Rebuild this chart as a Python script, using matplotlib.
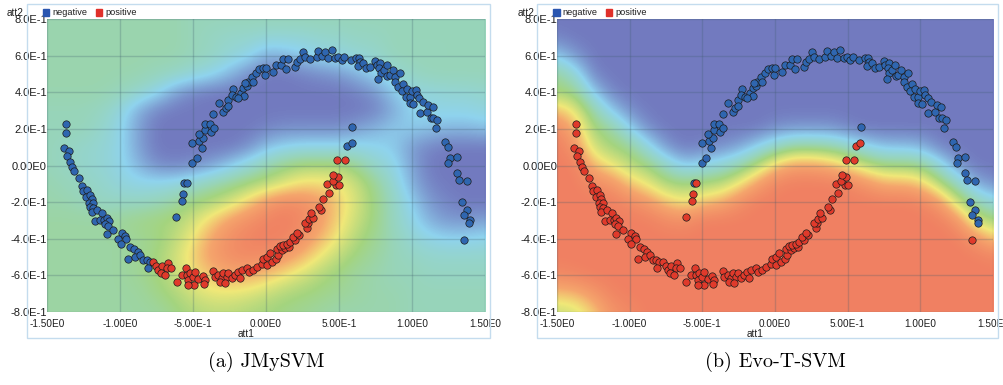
"""
Two-moons decision surfaces: JMySVM vs Evo-T-SVM.
"""
import matplotlib
matplotlib.use("Agg")
import matplotlib.pyplot as plt
from matplotlib.colors import LinearSegmentedColormap
from matplotlib.patches import Rectangle
import numpy as np

# negative class, left arm
arm_x = [-1.370, -1.372, -1.384, -1.347, -1.361, -1.342, -1.331, -1.313, -1.281, -1.262,
         -1.251, -1.228, -1.235, -1.205, -1.194, -1.210, -1.187, -1.205, -1.183, -1.194,
         -1.155, -1.125, -1.171, -1.137, -1.110, -1.091, -1.073, -1.103, -1.080, -1.091,
         -1.046, -0.988, -1.012, -0.966, -0.959, -0.993, -0.932, -0.902, -0.879, -0.943,
         -0.897, -0.863, -0.840, -0.817, -0.795, -0.810]
arm_y = [0.225, 0.177, 0.094, 0.081, 0.050, 0.021, -0.007, -0.030, -0.070, -0.112,
         -0.138, -0.134, -0.171, -0.161, -0.185, -0.207, -0.207, -0.225, -0.234, -0.252,
         -0.243, -0.261, -0.302, -0.298, -0.298, -0.288, -0.302, -0.321, -0.329, -0.374,
         -0.352, -0.367, -0.402, -0.385, -0.403, -0.430, -0.444, -0.458, -0.471, -0.512,
         -0.498, -0.489, -0.516, -0.516, -0.525, -0.562]

# negative class, upper arc
arc_x = [-0.560, -0.505, -0.475, -0.505, -0.440, -0.457, -0.429, -0.461, -0.418, -0.418,
         -0.384, -0.379, -0.356, -0.361, -0.325, -0.292, -0.274, -0.258, -0.228, -0.233,
         -0.205, -0.173, -0.155, -0.151, -0.132, -0.121, -0.098, -0.087, -0.068, -0.046,
         -0.023, -0.007, 0.000, 0.050, 0.068, 0.101, 0.118, 0.153, 0.137, 0.199,
         0.210, 0.233, 0.255, 0.267, 0.301, 0.347, 0.358, 0.382, 0.404, 0.427,
         0.450, 0.473, 0.495, 0.518, 0.534, 0.580, 0.616, 0.639, 0.644, 0.632,
         0.666, 0.685, 0.712, 0.747, 0.758, 0.781, 0.776, 0.786, 0.769, 0.808,
         0.827, 0.831, 0.849, 0.868, 0.884, 0.918, 0.884, 0.906, 0.940, 0.929,
         0.964, 0.957, 0.986, 0.998, 1.027, 1.032, 0.986, 1.009, 1.050, 1.073,
         1.055, 1.101, 1.112, 1.142, 1.128, 1.146, 1.173, 1.164, 1.226, 1.244,
         1.260, 1.310, 1.249, 1.310, 1.324, 1.375, 1.340, 1.375, 1.356, 1.397,
         1.393, 0.591, -0.258, -0.194, -0.144]
arc_y = [-0.094, 0.012, 0.042, 0.125, 0.097, 0.134, 0.148, 0.174, 0.194, 0.225,
         0.225, 0.184, 0.203, 0.284, 0.339, 0.290, 0.312, 0.358, 0.418, 0.385,
         0.374, 0.394, 0.422, 0.378, 0.436, 0.458, 0.485, 0.458, 0.503, 0.525,
         0.534, 0.494, 0.531, 0.509, 0.549, 0.549, 0.582, 0.582, 0.527, 0.539,
         0.567, 0.582, 0.621, 0.594, 0.580, 0.591, 0.625, 0.600, 0.618, 0.589,
         0.631, 0.585, 0.594, 0.576, 0.594, 0.576, 0.589, 0.589, 0.567, 0.545,
         0.558, 0.534, 0.539, 0.571, 0.549, 0.558, 0.531, 0.503, 0.471, 0.521,
         0.549, 0.489, 0.494, 0.521, 0.485, 0.503, 0.458, 0.430, 0.443, 0.407,
         0.418, 0.376, 0.376, 0.407, 0.412, 0.385, 0.343, 0.334, 0.367, 0.348,
         0.288, 0.294, 0.330, 0.321, 0.261, 0.258, 0.248, 0.203, 0.127, 0.099,
         0.039, 0.048, 0.015, -0.043, -0.079, -0.085, -0.201, -0.243, -0.270, -0.298,
         -0.316, 0.212, 0.325, 0.367, 0.449]

# negative points lying close to the boundary
edge_x = [-0.543, -0.566, -0.573, -0.616, 0.557, 0.587, 1.358]
edge_y = [-0.094, -0.157, -0.194, -0.280, 0.108, 0.121, -0.407]

# positive class
pos_x = [-0.772, -0.753, -0.738, -0.714, -0.673, -0.680, -0.651, -0.721, -0.692, -0.612,
         -0.548, -0.577, -0.543, -0.521, -0.532, -0.502, -0.486, -0.464, -0.491, -0.532,
         -0.434, -0.418, -0.425, -0.361, -0.349, -0.327, -0.303, -0.315, -0.292, -0.269,
         -0.258, -0.281, -0.235, -0.212, -0.190, -0.166, -0.178, -0.132, -0.114, -0.087,
         -0.064, -0.029, -0.018, 0.009, 0.005, 0.039, 0.027, 0.068, 0.084, 0.073,
         0.108, 0.096, 0.130, 0.118, 0.160, 0.142, 0.164, 0.199, 0.187, 0.228,
         0.210, 0.279, 0.290, 0.267, 0.297, 0.324, 0.306, 0.375, 0.365, 0.393,
         0.432, 0.416, 0.479, 0.502, 0.457, 0.491, 0.461, 0.488, 0.541]
pos_y = [-0.525, -0.549, -0.571, -0.549, -0.531, -0.562, -0.562, -0.589, -0.598, -0.635,
         -0.558, -0.598, -0.598, -0.589, -0.625, -0.607, -0.580, -0.622, -0.653, -0.653,
         -0.604, -0.625, -0.647, -0.575, -0.611, -0.598, -0.616, -0.635, -0.589, -0.607,
         -0.589, -0.643, -0.616, -0.598, -0.580, -0.571, -0.616, -0.562, -0.580, -0.571,
         -0.556, -0.538, -0.512, -0.544, -0.501, -0.525, -0.476, -0.512, -0.489, -0.458,
         -0.462, -0.440, -0.452, -0.434, -0.444, -0.429, -0.416, -0.407, -0.389, -0.380,
         -0.367, -0.343, -0.316, -0.316, -0.294, -0.288, -0.261, -0.243, -0.225, -0.185,
         -0.149, -0.101, -0.107, -0.107, -0.083, -0.065, -0.052, 0.030, 0.030]

# decision values, rows from y=0.8 down to y=-0.8 (step 0.1),
# columns from x=-1.5 to x=1.5 (step 0.125)
jmysvm_grid = [
    [-.2, -.2, -.2, -.2, -.2, -.2, -.2, -.2, -.25, -.25, -.25, -.25, -.25, -.25, -.25, -.25, -.25, -.25, -.25, -.25, -.25, -.25, -.25, -.25, -.25],
    [-.2, -.2, -.2, -.2, -.2, -.2, -.2, -.2, -.25, -.3, -.35, -.35, -.4, -.4, -.4, -.35, -.35, -.3, -.3, -.25, -.25, -.25, -.25, -.25, -.25],
    [-.2, -.2, -.2, -.2, -.2, -.2, -.2, -.2, -.25, -.3, -.4, -.5, -.75, -.7, -.6, -.5, -.45, -.4, -.35, -.25, -.25, -.25, -.25, -.25, -.25],
    [-.2, -.2, -.2, -.2, -.2, -.2, -.25, -.3, -.4, -.5, -.7, -.9, -1, -1, -.95, -.9, -.85, -.7, -.55, -.4, -.3, -.25, -.25, -.25, -.25],
    [-.2, -.2, -.2, -.2, -.25, -.35, -.5, -.8, -.95, -1, -1, -1, -1, -1, -1, -1, -1, -.95, -.85, -.6, -.45, -.45, -.4, -.4, -.35],
    [-.25, -.25, -.25, -.3, -.45, -.75, -.95, -1, -1, -1, -1, -1, -1, -1, -1, -1, -1, -1, -.95, -.75, -.55, -.5, -.5, -.5, -.45],
    [-.25, -.25, -.25, -.35, -.5, -.8, -1, -1, -1, -1, -1, -1, -.95, -.9, -.9, -.9, -.9, -.8, -.7, -.6, -.6, -.65, -.7, -.7, -.65],
    [-.25, -.3, -.35, -.4, -.5, -.8, -1, -1, -1, -1, -1, -.9, -.65, -.55, -.5, -.5, -.5, -.5, -.55, -.6, -.85, -.95, -1, -1, -1],
    [-.25, -.3, -.35, -.4, -.5, -.7, -.9, -.95, -.9, -.8, -.6, -.4, -.2, -.05, .05, .05, .05, -.1, -.35, -.5, -.8, -1, -1, -1, -1],
    [-.2, -.25, -.3, -.35, -.45, -.5, -.5, -.45, -.35, -.2, -.1, 0, .1, .25, .4, .4, .35, .15, -.1, -.4, -.75, -.95, -1, -1, -1],
    [-.2, -.2, -.25, -.3, -.3, -.3, -.25, -.15, 0, .05, .2, .45, .75, .9, .85, .7, .45, .2, -.05, -.3, -.6, -.85, -.95, -1, -1],
    [-.15, -.15, -.15, -.15, -.1, -.05, 0, .05, .2, .45, .7, .85, .95, 1, .9, .7, .4, .15, -.05, -.3, -.5, -.75, -.85, -.85, -.8],
    [-.15, -.15, -.15, -.15, -.15, -.1, -.05, .1, .35, .65, .85, .95, 1, .95, .8, .55, .3, .05, -.1, -.25, -.4, -.5, -.55, -.55, -.5],
    [-.15, -.15, -.15, -.15, -.15, -.1, 0, .2, .45, .7, .85, .9, .85, .75, .55, .3, .1, -.05, -.15, -.25, -.3, -.35, -.35, -.35, -.35],
    [-.15, -.15, -.15, -.15, -.15, -.1, 0, .15, .35, .5, .6, .6, .5, .35, .2, .05, -.05, -.15, -.2, -.25, -.25, -.3, -.3, -.3, -.3],
    [-.15, -.15, -.15, -.15, -.15, -.15, -.05, .05, .2, .3, .3, .25, .15, .05, 0, -.05, -.1, -.15, -.2, -.2, -.25, -.25, -.25, -.25, -.25],
    [-.15, -.15, -.15, -.15, -.15, -.15, -.15, -.05, .05, .1, .1, .05, 0, -.05, -.1, -.15, -.2, -.2, -.2, -.2, -.25, -.25, -.25, -.25, -.25],
]

evo_grid = [
    [-1, -1, -1, -1, -1, -1, -1, -1, -1, -1, -1, -1, -1, -1, -1, -1, -1, -1, -1, -1, -1, -1, -1, -1, -1],
    [-.95, -1, -1, -1, -1, -1, -1, -1, -1, -1, -1, -1, -1, -1, -1, -1, -1, -1, -1, -1, -1, -1, -1, -1, -1],
    [-.6, -.85, -1, -1, -1, -1, -1, -1, -1, -1, -1, -1, -1, -1, -1, -1, -1, -1, -1, -1, -1, -1, -1, -1, -1],
    [-.1, -.4, -.95, -1, -1, -1, -1, -1, -1, -1, -1, -1, -1, -1, -1, -1, -1, -1, -1, -1, -1, -1, -1, -1, -1],
    [0, -.05, -.6, -.95, -1, -1, -1, -1, -1, -1, -1, -1, -1, -1, -1, -1, -1, -1, -1, -1, -1, -1, -1, -1, -1],
    [.55, .3, -.15, -.6, -.9, -1, -1, -1, -1, -1, -1, -1, -1, -1, -1, -1, -1, -1, -1, -1, -1, -1, -1, -1, -1],
    [.9, .6, 0, -.1, -.55, -.9, -1, -1, -1, -1, -1, -1, -.9, -.85, -.85, -.85, -.95, -1, -1, -1, -1, -1, -1, -1, -1],
    [1, .8, .2, 0, -.05, -.45, -.85, -1, -.95, -.9, -.8, -.55, -.3, -.1, -.1, -.15, -.3, -.5, -.65, -.65, -.7, -.95, -1, -1, -1],
    [1, 1, .55, .35, .1, 0, -.3, -.6, -.5, -.4, -.2, .1, .5, .7, .7, .6, .4, .15, 0, 0, -.05, -.4, -.85, -1, -1],
    [1, 1, .9, .8, .5, .3, .05, 0, .05, .1, .35, .7, .95, 1, 1, 1, .95, .8, .6, .6, .5, .1, -.3, -.75, -.9],
    [1, 1, 1, 1, .9, .75, .5, .35, .5, .6, .85, 1, 1, 1, 1, 1, 1, 1, 1, 1, .95, .75, .2, -.2, -.45],
    [1, 1, 1, 1, 1, 1, .9, .85, 1, 1, 1, 1, 1, 1, 1, 1, 1, 1, 1, 1, 1, 1, .8, .2, 0],
    [1, 1, 1, 1, 1, 1, 1, 1, 1, 1, 1, 1, 1, 1, 1, 1, 1, 1, 1, 1, 1, 1, 1, .8, .5],
    [1, 1, 1, 1, 1, 1, 1, 1, 1, 1, 1, 1, 1, 1, 1, 1, 1, 1, 1, 1, 1, 1, 1, 1, .95],
    [.9, .95, 1, 1, 1, 1, 1, 1, 1, 1, 1, 1, 1, 1, 1, 1, 1, 1, 1, 1, 1, 1, 1, 1, 1],
    [.5, .55, .75, .95, 1, 1, 1, 1, 1, 1, 1, 1, 1, 1, 1, 1, 1, 1, 1, 1, 1, 1, 1, 1, 1],
    [.15, .2, .45, .8, .9, 1, 1, 1, 1, 1, 1, 1, 1, 1, 1, 1, 1, 1, 1, 1, 1, 1, 1, 1, 1],
]

x_ticks = [-1.5, -1.0, -0.5, 0.0, 0.5, 1.0, 1.5]
x_labels = ["-1.50E0", "-1.00E0", "-5.00E-1", "0.00E0", "5.00E-1", "1.00E0", "1.50E0"]
y_ticks = [-0.8, -0.6, -0.4, -0.2, 0.0, 0.2, 0.4, 0.6, 0.8]
y_labels = ["-8.0E-1", "-6.0E-1", "-4.0E-1", "-2.0E-1", "0.00E0",
            "2.0E-1", "4.0E-1", "6.0E-1", "8.0E-1"]
captions = ["(a) JMySVM", "(b) Evo-T-SVM"]

NEG = "#2f66b0"
POS = "#e03a2b"

surface = LinearSegmentedColormap.from_list("surface", [
    (0.0, "#727abf"),
    (0.22, "#8fd3ee"),
    (0.38, "#98d5b8"),
    (0.5, "#a4d47f"),
    (0.67, "#f0e878"),
    (0.82, "#f5a56c"),
    (1.0, "#f08062"),
])

X_FONT = dict(family="Liberation Sans", size=7.2, color="#1e1e1e")
Y_FONT = dict(family="Liberation Sans", size=8, color="#1e1e1e")
LEG_FONT = dict(family="Liberation Sans", size=6.6, color="#1e1e1e")

fig = plt.figure(figsize=(10.04, 3.85), dpi=100)

panels = [
    # left, width, grid, blue groups, red groups
    (0.0468, 0.4363, jmysvm_grid,
     [(arm_x, arm_y), (arc_x, arc_y), (edge_x, edge_y)],
     [(pos_x, pos_y)]),
    (0.5548, 0.4343, evo_grid,
     [(arc_x, arc_y)],
     [(arm_x, arm_y), (edge_x, edge_y), (pos_x, pos_y)]),
]

for k, (left, width, grid, blues, reds) in enumerate(panels):
    ax = fig.add_axes([left, 0.1896, width, 0.7610])
    z = np.array(grid)
    ax.imshow(z, cmap=surface, vmin=-1, vmax=1, interpolation="bicubic",
              extent=[-1.5625, 1.5625, -0.85, 0.85], origin="upper", aspect="auto",
              zorder=0)
    ax.set_xlim(-1.5, 1.5)
    ax.set_ylim(-0.8, 0.8)

    for t in x_ticks:
        ax.axvline(t, color="#3d5c6c", alpha=0.25, lw=1, zorder=1)
    for t in y_ticks:
        ax.axhline(t, color="#3d5c6c", alpha=0.25, lw=1, zorder=1)

    for xs, ys in blues:
        ax.scatter(xs, ys, s=28, c=NEG, edgecolors="#1c1c1c", linewidths=0.5, zorder=3)
    for xs, ys in reds:
        ax.scatter(xs, ys, s=28, c=POS, edgecolors="#1c1c1c", linewidths=0.5, zorder=3)

    ax.set_xticks(x_ticks)
    ax.set_xticklabels(x_labels, fontdict=X_FONT)
    ax.set_yticks(y_ticks)
    ax.set_yticklabels(y_labels, fontdict=Y_FONT)
    ax.tick_params(axis="x", length=0, pad=5)
    ax.tick_params(axis="y", length=0, pad=0)
    for s in ax.spines.values():
        s.set_visible(False)

    # axis titles and legend
    ax.text(-0.14, -0.92, "att1", ha="center", va="center", fontdict=X_FONT)
    ax.text(-1.5 - 40 / 146, 0.835, "att2", ha="left", va="center",
            fontdict=X_FONT, clip_on=False)
    for lab, col, off in [("negative", "#2a56b0", -4), ("positive", "#e0302a", 49)]:
        sx = -1.5 + off / 146
        ax.add_patch(Rectangle((sx, 0.818), 6.5 / 146, 7 / 183, color=col,
                               clip_on=False, zorder=4))
        ax.text(sx + 9.5 / 146, 0.838, lab, ha="left", va="center",
                fontdict=LEG_FONT, clip_on=False)

    # light frame around the chart
    px0 = left * 1004 - 20
    frame = Rectangle((px0 / 1004, 47 / 385), (width * 1004 + 25) / 1004, 334 / 385,
                      transform=fig.transFigure, fill=False, ec="#c4dcee", lw=1)
    fig.patches.append(frame)

    fig.text(left + width / 2, 0.06, captions[k], ha="center", va="center",
             family="cmr10", size=14.5)

fig.savefig("out.png", dpi=100)
